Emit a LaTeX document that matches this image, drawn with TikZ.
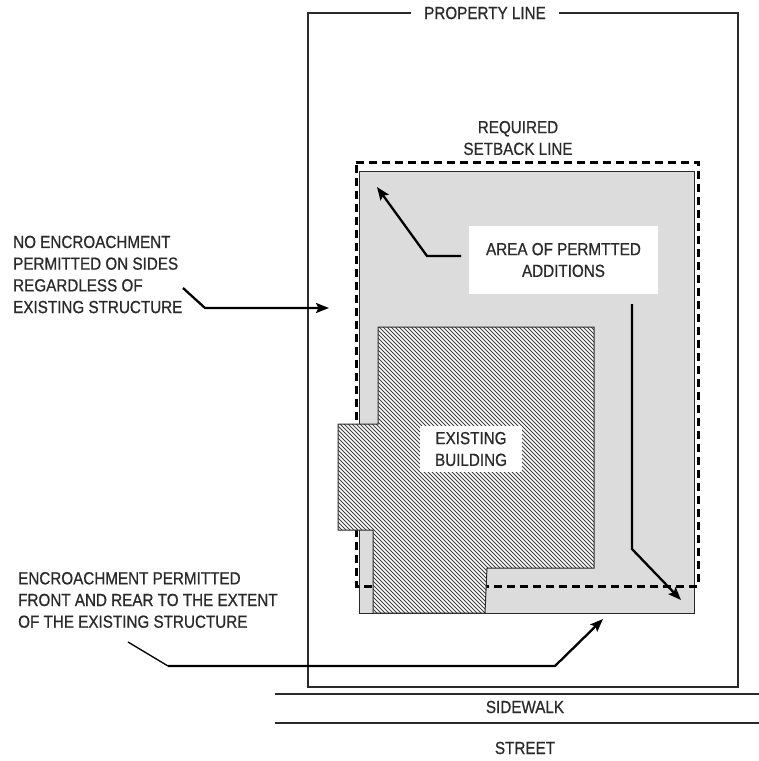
\documentclass[tikz,border=0pt]{standalone}
\usepackage{fontspec}
\setmainfont{Liberation Sans}[FakeStretch=0.87,FakeBold=0.7]
\usetikzlibrary{arrows.meta}
\definecolor{ink}{HTML}{2A2A2A}
\definecolor{areagray}{HTML}{DCDCDC}
\begin{document}
\begin{tikzpicture}[x=1pt,y=-1pt,
  lbl/.style={inner sep=0pt, font=\fontsize{17.5}{21.7}\selectfont, text=ink},
  thinline/.style={line width=1.1pt, draw=ink},
  leader/.style={line width=2.3pt, draw=black, line join=miter, -{Stealth[length=13pt,width=10pt,inset=2.5pt]}},
  setback/.style={line width=3pt, draw=black, dash pattern=on 8pt off 5pt},
  hatchline/.style={line width=0.9pt, draw=black!75},
]
\useasboundingbox (0,0) rectangle (759,761);

% property line and street
\draw[thinline] (308,13) rectangle (738,687);
\draw[thinline] (275,694) -- (759,694);
\draw[thinline] (275,723) -- (759,723);

% permitted area
\draw[fill=areagray, draw=ink, line width=1pt] (359,171) rectangle (694,613);

% setback line
\draw[setback] (356,162) -- (698,162) -- (698,586) -- (356,586) -- cycle;

% existing building
\begin{scope}
  \clip (378,327) -- (594,327) -- (594,568) -- (487,568) -- (485,613) -- (373,613) -- (373,530) -- (338,530) -- (338,424) -- (378,424) -- cycle;
  \fill[white] (330,320) rectangle (600,620);
  \foreach \c in {-300,-296,...,600} {
    \draw[hatchline] (\c,320) -- ({\c+300},620);
  }
\end{scope}
\draw[thinline, line width=1pt] (378,327) -- (594,327) -- (594,568) -- (487,568) -- (485,613) -- (373,613) -- (373,530) -- (338,530) -- (338,424) -- (378,424) -- cycle;

% labels
\node[lbl, fill=white, inner xsep=13pt, inner ysep=4pt] (pl) at (485,13) {PROPERTY LINE};
\node[lbl, align=center] (sb) at (518,138) {REQUIRED\\SETBACK LINE};
\node[lbl, fill=white, align=center, minimum width=189pt, minimum height=68pt] (area) at (563.5,260) {AREA OF PERMTTED\\ADDITIONS};
\node[lbl, fill=white, align=center, minimum width=102pt, minimum height=46pt] (eb) at (471,449) {EXISTING\\BUILDING};
\node[lbl, align=left, anchor=west] (noenc) at (13,274.5) {NO ENCROACHMENT\\PERMITTED ON SIDES\\REGARDLESS OF\\EXISTING STRUCTURE};
\node[lbl, align=left, anchor=west] (enc) at (18,600) {ENCROACHMENT PERMITTED\\FRONT AND REAR TO THE EXTENT\\OF THE EXISTING STRUCTURE};
\node[lbl] (sw) at (525,707) {SIDEWALK};
\node[lbl] (st) at (525,748) {STREET};

% leaders
\coordinate (a1s) at (183,288);
\coordinate (a1k) at (205,308);
\coordinate (a1e) at (329,308);
\draw[leader] (a1s) -- (a1k) -- (a1e);

\coordinate (a2s) at (461,256);
\coordinate (a2k) at (427,256);
\coordinate (a2e) at (377,187);
\draw[leader] (a2s) -- (a2k) -- (a2e);

\coordinate (a3s) at (632,304);
\coordinate (a3k) at (632,549);
\coordinate (a3e) at (681,600);
\draw[leader] (a3s) -- (a3k) -- (a3e);

\coordinate (a4s) at (128,642);
\coordinate (a4k) at (168,666);
\coordinate (a4m) at (555,666);
\coordinate (a4e) at (603,619);
\draw[leader, line width=1.3pt, -] (a4s) -- (a4k);
\draw[leader] (a4k) -- (a4m) -- (a4e);
\end{tikzpicture}
\end{document}
